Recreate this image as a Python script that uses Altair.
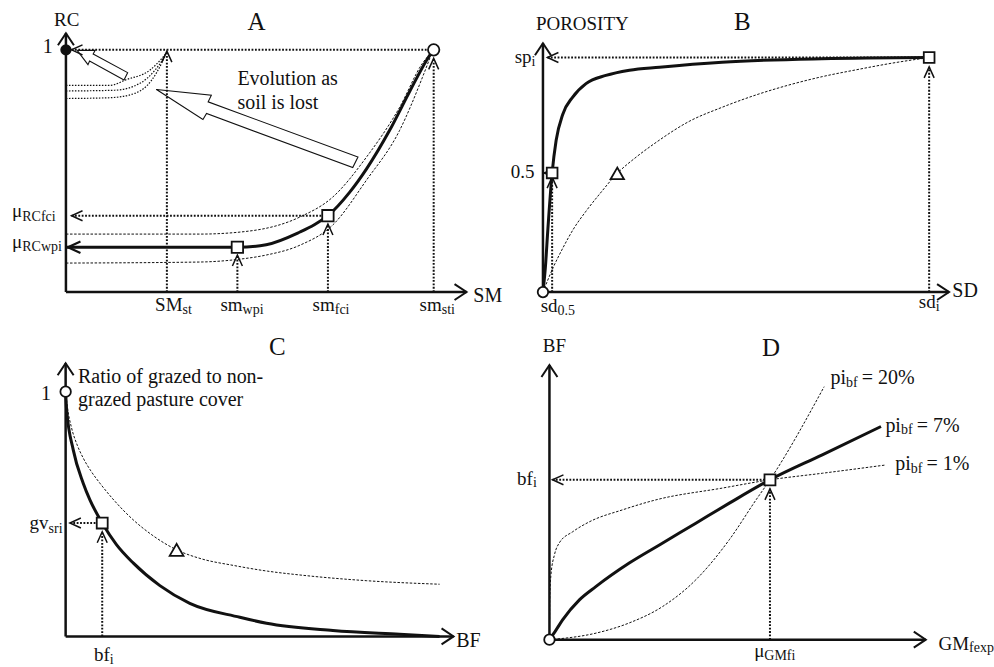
import altair as alt
import pandas as pd

W, H = 994, 667
FONT = "Liberation Serif"
INK = "#111111"

# Where each panel's axes sit on the page: origin x, origin y, x-axis length, y-axis length (px).
# Inside a panel both axes run from 0 to 100 (conceptual units).
FRAME_A = (66.0, 292.0, 401.0, 259.0)
FRAME_B = (543.5, 292.0, 406.5, 249.0)
FRAME_C = (65.7, 636.7, 388.3, 273.4)
FRAME_D = (550.0, 640.0, 376.7, 275.0)

# ---------------- Panel A : RC vs SM ----------------
A_ONE = 93.6
A_SMST, A_WPI, A_FCI, A_STI = 25.2, 42.8, 65.4, 91.8
A_MU_FC, A_MU_WP = 29.5, 17.3
A_THICK_X = [0, 38.4, 42.8, 50.0, 58.4, 62.0, 65.4, 70.8, 75.0, 80.8, 85.8, 90.0, 91.3]
A_THICK_Y = [17.3, 17.3, 17.3, 18.3, 23.2, 26.0, 29.5, 38.5, 47.5, 62.5, 77.5, 89.5, 92.6]
A_UP_X = [0, 33.4, 45.9, 58.4, 66.6, 75.0, 83.3, 89.0, 91.3]
A_UP_Y = [22.4, 22.4, 23.6, 29.0, 36.7, 52.1, 71.4, 88.4, 92.7]
A_LOW_X = [0, 33.4, 43.4, 50.0, 58.4, 66.6, 75.0, 83.3, 89.0, 91.3]
A_LOW_Y = [11.2, 11.6, 12.7, 14.3, 18.1, 25.9, 43.2, 62.5, 83.0, 92.3]
A_S1_X = [0, 11.0, 15.1, 20.9, 23.9, 24.9]
A_S1_Y = [79.9, 79.9, 82.1, 85.7, 90.2, 92.0]
A_S2_X = [0, 12.2, 18.5, 22.2, 24.2, 24.9]
A_S2_Y = [77.7, 78.0, 80.7, 85.7, 90.0, 92.0]
A_S3_X = [0, 11.0, 17.2, 21.4, 23.9, 24.9]
A_S3_Y = [74.8, 75.1, 76.8, 81.9, 88.5, 92.0]
A_BIG_ARROW_X = [22.6, 36.3, 35.5, 72.9, 71.6, 35.1, 34.2, 22.6]
A_BIG_ARROW_Y = [78.3, 76.1, 73.5, 52.2, 48.1, 69.0, 66.7, 78.3]
A_SMALL_ARROW_X = [2.8, 7.3, 6.8, 15.4, 14.5, 5.9, 5.5, 2.8]
A_SMALL_ARROW_Y = [93.4, 93.4, 92.0, 84.8, 82.0, 89.3, 87.9, 93.4]

# ---------------- Panel B : porosity vs SD ----------------
B_SP, B_HALF, B_SDI, B_SD05 = 94.3, 47.9, 95.1, 2.26
B_TRI = (18.3, 47.7)
B_THICK_X = [0, 0.6, 1.2, 2.26, 3.25, 4.89, 7.33, 10.6, 15.5, 21.3, 28.7, 44.1, 68.7, 95.1]
B_THICK_Y = [0, 10.0, 25.0, 47.9, 61.0, 71.5, 78.4, 83.8, 87.1, 89.2, 90.4, 92.4, 93.8, 94.3]
B_THIN_X = [0, 2.5, 4.87, 7.5, 10.6, 14.0, 18.3, 23.0, 27.9, 36.0, 44.0, 52.4, 60.5, 68.8, 77.0, 85.2, 95.1]
B_THIN_Y = [0, 9.8, 17.6, 25.3, 32.5, 39.5, 47.7, 54.3, 60.2, 68.6, 74.2, 79.2, 83.2, 86.6, 89.3, 91.8, 94.3]

# ---------------- Panel C : grazed ratio vs BF ----------------
C_ONE, C_BFI, C_GV = 89.6, 9.43, 41.5
C_TRI = (28.6, 31.7)
C_THICK_X = [0, 0.26, 1.96, 4.53, 6.26, 9.43, 13.1, 17.4, 24.3, 32.0, 44.9, 51.8, 68.9, 86.1, 96.4]
C_THICK_Y = [89.6, 82.9, 68.3, 56.1, 50.0, 41.5, 33.6, 26.9, 18.6, 12.1, 7.0, 4.8, 2.2, 0.8, 0]
C_THIN_X = [0, 0.5, 1.5, 3.0, 4.53, 6.5, 8.83, 12.5, 17.4, 22.5, 28.6, 35.0, 43.2, 52.0, 60.3, 77.5, 96.4]
C_THIN_Y = [89.6, 83.5, 76.5, 70.0, 65.3, 60.6, 56.1, 49.8, 42.7, 36.9, 31.7, 28.4, 26.0, 23.9, 22.5, 20.4, 19.1]

# ---------------- Panel D : BF vs GM_fexp ----------------
D_MU, D_BFI = 58.6, 58.2
D_P7_X = [0, 1.78, 3.54, 7.96, 12.4, 21.2, 30.1, 38.9, 47.8, 58.6, 72.5, 88.1]
D_P7_Y = [0, 3.6, 7.3, 14.5, 19.4, 27.9, 35.2, 42.4, 49.7, 58.2, 67.3, 77.6]
D_P1_X = [0, 0.08, 0.4, 1.33, 2.65, 6.19, 10.6, 19.5, 28.3, 46.0, 58.6, 72.6, 89.4]
D_P1_Y = [0, 14.5, 23.6, 30.9, 35.3, 39.3, 42.9, 47.3, 50.9, 55.2, 58.2, 60.6, 63.6]
D_P20_X = [0, 12.4, 21.2, 30.1, 38.9, 47.8, 54.9, 58.6, 73.0]
D_P20_Y = [0, 2.4, 6.1, 12.1, 21.8, 36.4, 50.9, 58.2, 92.1]

AXIS_PATH = "M-1.5,-1L0,0L-1.5,1"
GUIDE_PATH = "M-2.2,-1L0,0L-2.2,1"
DOTS = [1.8, 1.6]
DASH = [2.5, 1.6]


def scales(frame):
    ox, oy, xl, yl = frame
    xs = alt.Scale(domain=[-ox * 100 / xl, (W - ox) * 100 / xl], range=[0, W], nice=False, zero=False)
    ys = alt.Scale(domain=[(oy - H) * 100 / yl, oy * 100 / yl], range=[H, 0], nice=False, zero=False)
    return xs, ys


def xy(xs, ys):
    return dict(x=alt.X("x:Q", scale=xs, axis=None), y=alt.Y("y:Q", scale=ys, axis=None))


def curves(specs, xs, ys, width, dash=None, interp="monotone"):
    rows = []
    for cid, (cx, cy) in enumerate(specs):
        for i, (a, b) in enumerate(zip(cx, cy)):
            rows.append({"id": cid, "i": i, "x": a, "y": b})
    kw = dict(color=INK, strokeWidth=width, interpolate=interp)
    if dash:
        kw["strokeDash"] = dash
    return alt.Chart(pd.DataFrame(rows)).mark_line(**kw).encode(
        detail="id:N", order="i:Q", **xy(xs, ys))


def segs(rows, xs, ys, width, dash=None):
    df = pd.DataFrame(rows, columns=["x", "y", "x2", "y2"])
    kw = dict(color=INK, strokeWidth=width)
    if dash:
        kw["strokeDash"] = dash
    return alt.Chart(df).mark_rule(**kw).encode(x2="x2:Q", y2="y2:Q", **xy(xs, ys))


def chevrons(rows, xs, ys, path, size, width):
    df = pd.DataFrame(rows, columns=["x", "y", "ang"])
    return alt.Chart(df).mark_point(shape=path, size=size, filled=False, color=INK,
                                    strokeWidth=width, opacity=1).encode(
        angle=alt.Angle("ang:Q", scale=None), **xy(xs, ys))


def markers(rows, xs, ys):
    df = pd.DataFrame(rows, columns=["x", "y", "shape", "size", "fill"])
    return alt.Chart(df).mark_point(filled=True, stroke=INK, strokeWidth=1.8, opacity=1).encode(
        shape=alt.Shape("shape:N", scale=None),
        size=alt.Size("size:Q", scale=None),
        fill=alt.Fill("fill:N", scale=None), **xy(xs, ys))


def labels(rows, xs, ys, align, size, baseline="alphabetic"):
    df = pd.DataFrame(rows, columns=["x", "y", "t"])
    return alt.Chart(df).mark_text(align=align, baseline=baseline, fontSize=size, font=FONT,
                                   color=INK).encode(text="t:N", **xy(xs, ys))


def sub_labels(rows, xs, ys, main=19, sub=14):
    mains = [(u, vm, m) for (m, s, u, vm, vs) in rows]
    subs = [(u, vs, s) for (m, s, u, vm, vs) in rows]
    return [labels(mains, xs, ys, "right", main), labels(subs, xs, ys, "left", sub)]


def axes(xs, ys):
    return [segs([(0, 0, 0, 100), (0, 0, 100, 0)], xs, ys, 2.5),
            chevrons([(0, 100, 270), (100, 0, 0)], xs, ys, AXIS_PATH, 256, 2)]


# ---------------- build panel A ----------------
xa, ya = scales(FRAME_A)
panel_a = alt.layer(
    *axes(xa, ya),
    segs([(1.4, A_ONE, A_STI, A_ONE), (A_SMST, 0, A_SMST, 93.1), (A_STI, 0, A_STI, 90.3),
          (A_WPI, 0, A_WPI, 14.3), (A_FCI, 0, A_FCI, 26.3), (1.4, A_MU_FC, A_FCI, A_MU_FC)],
         xa, ya, 2, DOTS),
    chevrons([(1.4, A_ONE, 180), (A_SMST, 93.1, 270), (A_STI, 90.3, 270), (A_WPI, 14.3, 270),
              (A_FCI, 26.3, 270), (1.4, A_MU_FC, 180)], xa, ya, GUIDE_PATH, 100, 1.5),
    curves([(A_UP_X, A_UP_Y), (A_LOW_X, A_LOW_Y)], xa, ya, 1, DASH),
    curves([(A_S1_X, A_S1_Y), (A_S2_X, A_S2_Y), (A_S3_X, A_S3_Y)], xa, ya, 1.2, [1.5, 1.5]),
    curves([(A_THICK_X, A_THICK_Y)], xa, ya, 3),
    chevrons([(0.5, A_MU_WP, 180)], xa, ya, GUIDE_PATH, 130, 2.2),
    curves([(A_BIG_ARROW_X, A_BIG_ARROW_Y), (A_SMALL_ARROW_X, A_SMALL_ARROW_Y)], xa, ya, 1.1,
           interp="linear"),
    markers([(A_WPI, A_MU_WP, "square", 130, "white"), (A_FCI, A_MU_FC, "square", 130, "white"),
             (A_STI, A_ONE, "circle", 130, "white"), (0, A_ONE, "circle", 90, INK)], xa, ya),
    labels([(0.2, 102.7, "RC")], xa, ya, "center", 19),
    labels([(47.6, 101.4, "A")], xa, ya, "center", 25),
    labels([(-3.3, 92.2, "1")], xa, ya, "right", 20),
    labels([(101.7, -3.7, "SM"), (42.8, 79.9, "Evolution as"), (42.8, 70.9, "soil is lost")],
           xa, ya, "left", 20),
    *sub_labels([("SM", "st", 29.1, -7.3, -8.3), ("sm", "wpi", 44.1, -7.3, -8.3),
                 ("sm", "fci", 67.1, -7.3, -8.3), ("sm", "sti", 93.8, -7.3, -8.3),
                 ("μ", "RCfci", -10.9, 29.0, 27.5), ("μ", "RCwpi", -10.9, 17.0, 16.0)], xa, ya),
)

# ---------------- build panel B ----------------
xb, yb = scales(FRAME_B)
panel_b = alt.layer(
    *axes(xb, yb),
    segs([(1.1, B_SP, B_SDI, B_SP), (0.3, B_HALF, B_SD05, B_HALF), (B_SD05, 0, B_SD05, 46.2),
          (B_SDI, 0, B_SDI, 90.5)], xb, yb, 2, DOTS),
    chevrons([(1.1, B_SP, 180), (0.3, B_HALF, 180), (B_SD05, 46.2, 270), (B_SDI, 90.5, 270)],
             xb, yb, GUIDE_PATH, 100, 1.5),
    curves([(B_THIN_X, B_THIN_Y)], xb, yb, 1, DASH),
    curves([(B_THICK_X, B_THICK_Y)], xb, yb, 3),
    markers([(B_SD05, B_HALF, "square", 115, "white"), (B_SDI, B_SP, "square", 115, "white"),
             (B_TRI[0], B_TRI[1], "triangle-up", 180, "white"), (0, 0, "circle", 110, "white")],
            xb, yb),
    labels([(9.7, 105.5, "POROSITY")], xb, yb, "center", 19),
    labels([(49.1, 105.5, "B")], xb, yb, "center", 25),
    labels([(-2.1, 45.9, "0.5")], xb, yb, "right", 19),
    labels([(100.8, -1.9, "SD")], xb, yb, "left", 20),
    *sub_labels([("sp", "i", -2.8, 92.2, 90.9), ("sd", "0.5", 3.6, -8.0, -9.2),
                 ("sd", "i", 96.7, -6.4, -7.6)], xb, yb),
)

# ---------------- build panel C ----------------
xc, yc = scales(FRAME_C)
panel_c = alt.layer(
    *axes(xc, yc),
    segs([(1.1, C_GV, C_BFI, C_GV), (C_BFI, 0, C_BFI, 38.3)], xc, yc, 2, DOTS),
    chevrons([(1.1, C_GV, 180), (C_BFI, 38.3, 270)], xc, yc, GUIDE_PATH, 100, 1.5),
    curves([(C_THIN_X, C_THIN_Y)], xc, yc, 1, DASH),
    curves([(C_THICK_X, C_THICK_Y)], xc, yc, 3),
    markers([(C_BFI, C_GV, "square", 120, "white"), (C_TRI[0], C_TRI[1], "triangle-up", 190, "white"),
             (0, C_ONE, "circle", 110, "white")], xc, yc),
    labels([(54.6, 103.0, "C")], xc, yc, "center", 25),
    labels([(-3.8, 86.6, "1")], xc, yc, "right", 20),
    labels([(3.2, 92.7, "Ratio of grazed to non-"), (3.2, 84.4, "grazed pasture cover"),
            (100.7, -3.7, "BF")], xc, yc, "left", 20),
    *sub_labels([("gv", "sri", -4.4, 39.4, 37.9), ("bf", "i", 11.4, -8.9, -10.0)], xc, yc),
)

# ---------------- build panel D ----------------
xd, yd = scales(FRAME_D)
panel_d = alt.layer(
    *axes(xd, yd),
    segs([(0.8, D_BFI, D_MU, D_BFI), (D_MU, 0, D_MU, 54.9)], xd, yd, 2, DOTS),
    chevrons([(0.8, D_BFI, 180), (D_MU, 54.9, 270)], xd, yd, GUIDE_PATH, 100, 1.5),
    curves([(D_P1_X, D_P1_Y), (D_P20_X, D_P20_Y)], xd, yd, 1, DASH),
    curves([(D_P7_X, D_P7_Y)], xd, yd, 3),
    markers([(D_MU, D_BFI, "square", 120, "white"), (0, 0, "circle", 110, "white")], xd, yd),
    labels([(1.3, 104.8, "BF")], xd, yd, "center", 19),
    labels([(58.9, 103.3, "D")], xd, yd, "center", 25),
    labels([(83.0, 93.1, "= 20%"), (97.6, 75.7, "= 7%"), (100.2, 61.8, "= 1%")], xd, yd, "left", 20),
    *sub_labels([("pi", "bf", 78.8, 93.1, 92.0), ("pi", "bf", 93.4, 75.7, 74.8),
                 ("pi", "bf", 96.0, 61.8, 60.8)], xd, yd, main=20, sub=14),
    *sub_labels([("bf", "i", -4.4, 56.4, 55.7), ("GM", "fexp", 111.5, -3.6, -4.4),
                 ("μ", "GMfi", 57.1, -6.2, -7.3)], xd, yd),
)

chart = alt.layer(panel_a, panel_b, panel_c, panel_d).resolve_scale(
    x="independent", y="independent"
).properties(width=W, height=H, padding=0, background="white").configure_view(stroke=None)

chart.save("out.html", embed_options={"renderer": "svg", "actions": False})
